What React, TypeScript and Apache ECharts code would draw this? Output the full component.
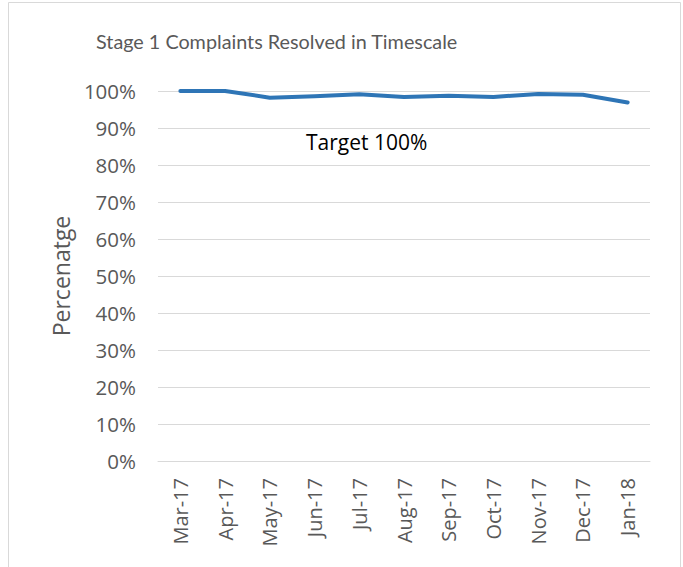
import React, { useEffect, useRef } from "react";
import * as echarts from "echarts";

const categories = ["Mar-17", "Apr-17", "May-17", "Jun-17", "Jul-17", "Aug-17", "Sep-17", "Oct-17", "Nov-17", "Dec-17", "Jan-18"];
const resolvedPct = [100, 100, 98.2, 98.6, 99.1, 98.4, 98.7, 98.4, 99.2, 99.0, 96.9];
const titleText = "Stage 1 Complaints Resolved in Timescale";
const yAxisName = "Percenatge";
const targetLabel = "Target 100%";

const FONT = "'Open Sans', 'Noto Sans', sans-serif";
const TITLE_FONT = "Lato, 'Open Sans', sans-serif";
const GREY = "#595959";

export default function App() {
  const ref = useRef<HTMLDivElement>(null);
  useEffect(() => {
    if (!ref.current) return;
    const chart = echarts.init(ref.current, undefined, { renderer: "svg" });
    chart.setOption({
      animation: false,
      backgroundColor: "#ffffff",
      title: {
        text: titleText,
        left: 96,
        top: 31,
        padding: 0,
        textStyle: { fontFamily: TITLE_FONT, fontSize: 19.8, fontWeight: "normal", color: GREY },
      },
      grid: { left: 158, right: 33, top: 91, height: 370 },
      xAxis: {
        type: "category",
        data: categories,
        boundaryGap: true,
        axisLine: { show: true, lineStyle: { color: "#D9D9D9", width: 1 } },
        axisTick: { show: false },
        axisLabel: { rotate: 90, color: GREY, fontFamily: FONT, fontSize: 20, margin: 17 },
      },
      yAxis: {
        type: "value",
        min: 0,
        max: 100,
        interval: 10,
        name: yAxisName,
        nameLocation: "middle",
        nameGap: 86,
        nameTextStyle: { color: GREY, fontFamily: FONT, fontSize: 23 },
        axisLine: { show: false },
        axisTick: { show: false },
        splitLine: { lineStyle: { color: "#D9D9D9", width: 1 } },
        axisLabel: { formatter: "{value}%", color: GREY, fontFamily: FONT, fontSize: 20.5, margin: 22 },
      },
      series: [
        {
          type: "line",
          data: resolvedPct,
          showSymbol: false,
          symbol: "none",
          lineStyle: { color: "#2E75B6", width: 4, cap: "round", join: "round" },
        },
      ],
      graphic: [
        {
          type: "rect",
          shape: { x: 8.5, y: 2.5, width: 672, height: 620 },
          style: { fill: "none", stroke: "#D9D9D9", lineWidth: 1 },
          silent: true,
        },
        {
          type: "text",
          left: 306,
          top: 131,
          style: { text: targetLabel, fill: "#000000", font: `21px ${FONT}` },
        },
      ],
    });
    return () => chart.dispose();
  }, []);
  return <div ref={ref} style={{ position: "fixed", left: 0, top: 0, width: 683, height: 567 }} />;
}
